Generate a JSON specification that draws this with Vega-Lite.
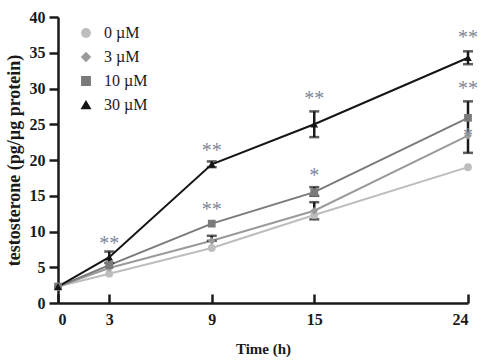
{
  "$schema": "https://vega.github.io/schema/vega-lite/v6.json",
  "width": 410,
  "height": 286,
  "autosize": {"type": "none"},
  "padding": {"left": 58, "top": 17, "right": 22, "bottom": 59},
  "background": "white",
  "config": {
    "view": {"stroke": null},
    "font": "Liberation Serif",
    "axis": {"grid": false, "domainColor": "#1a1a1a", "tickColor": "#1a1a1a", "domainWidth": 2.5, "tickWidth": 2.5, "labelColor": "#1a1a1a", "titleColor": "#1a1a1a", "labelOverlap": false, "labelFont": "Liberation Serif", "titleFont": "Liberation Serif", "labelFontWeight": "bold", "titleFontWeight": "bold", "labelFontSize": 16, "titleFontSize": 15}
  },
  "datasets": {
    "pts": [
      {"series": "0 µM", "t": 0, "v": 2.3},
      {"series": "0 µM", "t": 3, "v": 4.1},
      {"series": "0 µM", "t": 9, "v": 7.7},
      {"series": "0 µM", "t": 15, "v": 12.3},
      {"series": "0 µM", "t": 24, "v": 19.0},
      {"series": "3 µM", "t": 0, "v": 2.3},
      {"series": "3 µM", "t": 3, "v": 4.9},
      {"series": "3 µM", "t": 9, "v": 8.7},
      {"series": "3 µM", "t": 15, "v": 12.9},
      {"series": "3 µM", "t": 24, "v": 23.4},
      {"series": "10 µM", "t": 0, "v": 2.3},
      {"series": "10 µM", "t": 3, "v": 5.3},
      {"series": "10 µM", "t": 9, "v": 11.1},
      {"series": "10 µM", "t": 15, "v": 15.5},
      {"series": "10 µM", "t": 24, "v": 25.9},
      {"series": "30 µM", "t": 0, "v": 2.3},
      {"series": "30 µM", "t": 3, "v": 6.4},
      {"series": "30 µM", "t": 9, "v": 19.4},
      {"series": "30 µM", "t": 15, "v": 25.0},
      {"series": "30 µM", "t": 24, "v": 34.3}
    ],
    "err": [
      {"t": 3, "v": 5.6, "hi": 7.2},
      {"t": 9, "v": 19.0, "hi": 19.8},
      {"t": 15, "v": 23.2, "hi": 26.8},
      {"t": 24, "v": 33.4, "hi": 35.2},
      {"t": 24, "v": 21.0, "hi": 28.2},
      {"t": 9, "v": 8.7, "hi": 9.4},
      {"t": 15, "v": 11.7, "hi": 14.1},
      {"t": 15, "v": 15.0, "hi": 16.2}
    ],
    "sig": [
      {"t": 3, "v": 8.3, "label": "**", "dx": 0},
      {"t": 9, "v": 21.3, "label": "**", "dx": 0},
      {"t": 9, "v": 13.0, "label": "**", "dx": 0},
      {"t": 15, "v": 28.6, "label": "**", "dx": 0},
      {"t": 15, "v": 17.8, "label": "*", "dx": 0},
      {"t": 24, "v": 37.0, "label": "**", "dx": 0},
      {"t": 24, "v": 30.0, "label": "**", "dx": 0},
      {"t": 24, "v": 23.3, "label": "*", "dx": 12}
    ]
  },
  "encoding": {
    "x": {"field": "t", "type": "quantitative", "scale": {"domain": [0, 24], "nice": false}, "axis": {"values": [0, 3, 9, 15, 24], "title": "Time (h)", "tickSize": -9, "labelPadding": 17, "titlePadding": 14}},
    "y": {"field": "v", "type": "quantitative", "scale": {"domain": [0, 40], "nice": false}, "axis": {"values": [0, 5, 10, 15, 20, 25, 30, 35, 40], "title": "testosterone (pg/µg protein)", "tickSize": 9, "labelPadding": 4, "titlePadding": 6, "titleFontSize": 18}}
  },
  "layer": [
    {
      "data": {"name": "pts"},
      "mark": {"type": "line", "strokeWidth": 2},
      "encoding": {
        "color": {"field": "series", "type": "nominal", "scale": {"domain": ["0 µM", "3 µM", "10 µM", "30 µM"], "range": ["#bdbdbd", "#9a9a9a", "#7a7a7a", "#151515"]}, "legend": {"title": null, "orient": "none", "legendX": 20, "legendY": 8, "labelFont": "Liberation Serif", "labelFontSize": 16, "labelColor": "#1a1a1a", "rowPadding": 8, "symbolSize": 70, "labelOffset": 10}}
      }
    },
    {
      "data": {"name": "err"},
      "mark": {"type": "rule", "color": "#1a1a1a", "strokeWidth": 2.5},
      "encoding": {
        "y2": {"field": "hi"}
      }
    },
    {
      "data": {"name": "err"},
      "mark": {"type": "tick", "color": "#1a1a1a", "thickness": 2.5, "size": 10, "orient": "horizontal"}
    },
    {
      "data": {"name": "err"},
      "mark": {"type": "tick", "color": "#1a1a1a", "thickness": 2.5, "size": 10, "orient": "horizontal"},
      "encoding": {
        "y": {"field": "hi", "type": "quantitative", "axis": {"values": [0, 5, 10, 15, 20, 25, 30, 35, 40], "title": "testosterone (pg/µg protein)", "tickSize": 9, "labelPadding": 4, "titlePadding": 6, "titleFontSize": 18}}
      }
    },
    {
      "data": {"name": "pts"},
      "mark": {"type": "point", "filled": true, "size": 60, "opacity": 1},
      "encoding": {
        "color": {"field": "series", "type": "nominal"},
        "shape": {"field": "series", "type": "nominal", "scale": {"domain": ["0 µM", "3 µM", "10 µM", "30 µM"], "range": ["circle", "diamond", "square", "triangle-up"]}}
      }
    },
    {
      "data": {"name": "sig"},
      "mark": {"type": "text", "fontSize": 20, "color": "#7d8797", "baseline": "middle"},
      "encoding": {
        "xOffset": {"field": "dx", "type": "quantitative", "scale": null},
        "text": {"field": "label"}
      }
    }
  ]
}
